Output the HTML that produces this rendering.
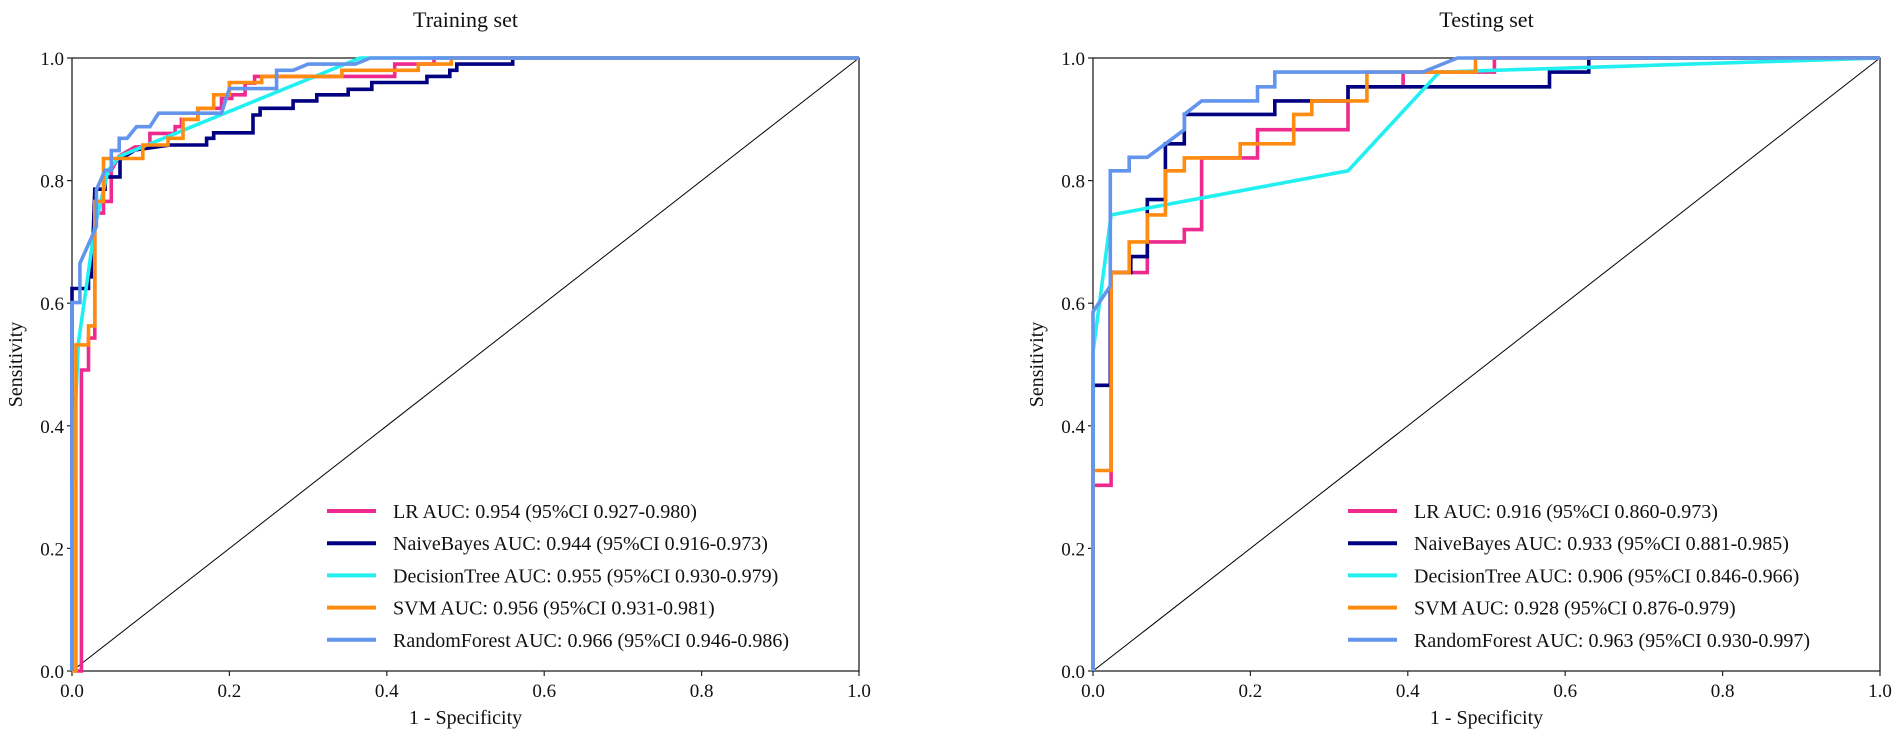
<!DOCTYPE html>
<html><head><meta charset="utf-8"><style>
html,body{margin:0;padding:0;background:#fff;}
svg text{font-family:"Liberation Serif",serif;fill:#111;}
</style></head><body>
<svg id="chart" width="1902" height="737" viewBox="0 0 1902 737" xmlns="http://www.w3.org/2000/svg"></svg>
<script>
const ticks=[0,0.2,0.4,0.6,0.8,1.0];
const tickLabels=["0.0","0.2","0.4","0.6","0.8","1.0"];
const seriesNames=["LR","NaiveBayes","DecisionTree","SVM","RandomForest"];
const colors=["#ef2a8f","#000080","#22f0f0","#ff8c10","#6495ed"];
const trainLabels=["LR AUC: 0.954 (95%CI 0.927-0.980)","NaiveBayes AUC: 0.944 (95%CI 0.916-0.973)","DecisionTree AUC: 0.955 (95%CI 0.930-0.979)","SVM AUC: 0.956 (95%CI 0.931-0.981)","RandomForest AUC: 0.966 (95%CI 0.946-0.986)"];
const testLabels=["LR AUC: 0.916 (95%CI 0.860-0.973)","NaiveBayes AUC: 0.933 (95%CI 0.881-0.985)","DecisionTree AUC: 0.906 (95%CI 0.846-0.966)","SVM AUC: 0.928 (95%CI 0.876-0.979)","RandomForest AUC: 0.963 (95%CI 0.930-0.997)"];
// Training set ROC (fpr, tpr), steps encoded as explicit corner points
const trainLR=[[0,0],[0.012,0],[0.012,0.37],[0.012,0.491],[0.021,0.491],[0.021,0.543],[0.029,0.543],[0.029,0.747],[0.04,0.747],[0.04,0.766],[0.05,0.766],[0.05,0.817],[0.06,0.84],[0.08,0.855],[0.099,0.855],[0.099,0.877],[0.131,0.877],[0.131,0.888],[0.139,0.888],[0.139,0.9],[0.16,0.9],[0.16,0.918],[0.19,0.918],[0.19,0.934],[0.203,0.934],[0.203,0.94],[0.22,0.94],[0.22,0.959],[0.232,0.959],[0.232,0.97],[0.41,0.97],[0.41,0.99],[0.46,0.99],[0.46,1],[1,1]];
const trainNB=[[0,0],[0,0.624],[0.021,0.624],[0.021,0.643],[0.025,0.643],[0.029,0.786],[0.042,0.786],[0.042,0.806],[0.061,0.806],[0.061,0.834],[0.08,0.85],[0.125,0.858],[0.171,0.858],[0.171,0.869],[0.18,0.869],[0.18,0.878],[0.23,0.878],[0.23,0.907],[0.239,0.907],[0.239,0.918],[0.281,0.918],[0.281,0.93],[0.311,0.93],[0.311,0.94],[0.351,0.94],[0.351,0.949],[0.381,0.949],[0.381,0.96],[0.451,0.96],[0.451,0.97],[0.48,0.97],[0.48,0.98],[0.489,0.98],[0.489,0.99],[0.56,0.99],[0.56,1],[1,1]];
const trainDT=[[0,0],[0,0.3],[0.008,0.534],[0.029,0.725],[0.046,0.817],[0.061,0.84],[0.366,1],[1,1]];
const trainSVM=[[0,0],[0.005,0],[0.005,0.42],[0.005,0.532],[0.021,0.532],[0.021,0.563],[0.029,0.563],[0.029,0.766],[0.04,0.766],[0.04,0.836],[0.09,0.836],[0.09,0.858],[0.122,0.858],[0.122,0.869],[0.141,0.869],[0.141,0.9],[0.16,0.9],[0.16,0.918],[0.18,0.918],[0.18,0.94],[0.2,0.94],[0.2,0.96],[0.241,0.96],[0.241,0.97],[0.343,0.97],[0.343,0.98],[0.44,0.98],[0.44,0.99],[0.482,0.99],[0.482,1],[1,1]];
const trainRF=[[0,0],[0,0.601],[0.01,0.601],[0.01,0.665],[0.031,0.725],[0.031,0.785],[0.042,0.817],[0.05,0.817],[0.05,0.849],[0.06,0.849],[0.06,0.869],[0.07,0.869],[0.082,0.888],[0.099,0.888],[0.11,0.91],[0.19,0.91],[0.2,0.95],[0.26,0.95],[0.26,0.98],[0.281,0.98],[0.3,0.99],[0.36,0.99],[0.379,1],[1,1]];
// Testing set ROC
const testLR=[[0,0],[0,0.303],[0.023,0.303],[0.023,0.65],[0.069,0.65],[0.069,0.7],[0.116,0.7],[0.116,0.72],[0.138,0.72],[0.138,0.837],[0.209,0.837],[0.209,0.883],[0.324,0.883],[0.324,0.953],[0.394,0.953],[0.394,0.977],[0.51,0.977],[0.51,1],[1,1]];
const testNB=[[0,0],[0,0.466],[0.022,0.466],[0.022,0.65],[0.048,0.65],[0.048,0.676],[0.069,0.676],[0.069,0.769],[0.092,0.769],[0.092,0.86],[0.116,0.86],[0.116,0.908],[0.231,0.908],[0.231,0.93],[0.324,0.93],[0.324,0.953],[0.58,0.953],[0.58,0.977],[0.63,0.977],[0.63,1],[1,1]];
const testDT=[[0,0],[0,0.52],[0.023,0.744],[0.324,0.816],[0.44,0.977],[1,1]];
const testSVM=[[0,0],[0,0.327],[0.023,0.327],[0.023,0.65],[0.046,0.65],[0.046,0.7],[0.069,0.7],[0.069,0.744],[0.092,0.744],[0.092,0.816],[0.116,0.816],[0.116,0.837],[0.187,0.837],[0.187,0.86],[0.255,0.86],[0.255,0.908],[0.278,0.908],[0.278,0.93],[0.348,0.93],[0.348,0.977],[0.486,0.977],[0.486,1],[1,1]];
const testRF=[[0,0],[0,0.586],[0.022,0.628],[0.022,0.816],[0.046,0.816],[0.046,0.838],[0.069,0.838],[0.116,0.883],[0.116,0.908],[0.138,0.93],[0.209,0.93],[0.209,0.953],[0.231,0.953],[0.231,0.977],[0.419,0.977],[0.463,1],[1,1]];

const NS="http://www.w3.org/2000/svg";
const svg=document.getElementById('chart');
function mk(tag,attrs,parent){const e=document.createElementNS(NS,tag);for(const k in attrs)e.setAttribute(k,attrs[k]);(parent||svg).appendChild(e);return e;}

function panel(key,x0,x1,y0,y1,title,series,labels,legX){
  const g=mk('g',{});
  
  
  const sx=v=>x0+v*(x1-x0), sy=v=>y1-v*(y1-y0);
  const t=mk('text',{x:(x0+x1)/2,y:27,'text-anchor':'middle','font-size':22},g);t.textContent=title;
  
  
  const frame=mk('rect',{x:x0,y:y0,width:x1-x0,height:y1-y0,fill:'none',stroke:'#222','stroke-width':1.3},g);
  
  
  ticks.forEach((v,i)=>{
    const tx=mk('line',{x1:sx(v),x2:sx(v),y1:y1,y2:y1+5,stroke:'#222','stroke-width':1.2},g);
    
    
    const lx=mk('text',{x:sx(v),y:y1+26,'text-anchor':'middle','font-size':19},g);lx.textContent=tickLabels[i];
    
    
    const ty=mk('line',{x1:x0-5,x2:x0,y1:sy(v),y2:sy(v),stroke:'#222','stroke-width':1.2},g);
    
    
    const ly=mk('text',{x:x0-8,y:sy(v)+7,'text-anchor':'end','font-size':19},g);ly.textContent=tickLabels[i];
    
    
  });
  const xl=mk('text',{x:(x0+x1)/2,y:724,'text-anchor':'middle','font-size':20},g);xl.textContent='1 - Specificity';
  
  
  const yx=x0-50, yy=(y0+y1)/2;
  const yl=mk('text',{x:yx,y:yy,'text-anchor':'middle','font-size':20,transform:`rotate(-90 ${yx} ${yy})`},g);yl.textContent='Sensitivity';
  
  
  const d=mk('line',{x1:sx(0),y1:sy(0),x2:sx(1),y2:sy(1),stroke:'#000','stroke-width':1},g);
  
  
  series.forEach((pts,i)=>{
    const p=mk('polyline',{points:pts.map(q=>sx(q[0]).toFixed(1)+','+sy(q[1]).toFixed(1)).join(' '),fill:'none',stroke:colors[i],'stroke-width':3.6,'stroke-linejoin':'miter'},g);
    
    
  });
  labels.forEach((s,i)=>{
    const yy2=511+i*32.2;
    const lg=mk('g',{},g);
    
    
    mk('line',{x1:legX,x2:legX+49,y1:yy2,y2:yy2,stroke:colors[i],'stroke-width':4},lg);
    const tt=mk('text',{x:legX+66,y:yy2+7,'font-size':20,textLength:0},lg);tt.removeAttribute('textLength');tt.textContent=s;
  });
}
panel('training',72,859,58,671,'Training set',[trainLR,trainNB,trainDT,trainSVM,trainRF],trainLabels,327);
panel('testing',1093,1880,58,671,'Testing set',[testLR,testNB,testDT,testSVM,testRF],testLabels,1348);
</script>
</body></html>
